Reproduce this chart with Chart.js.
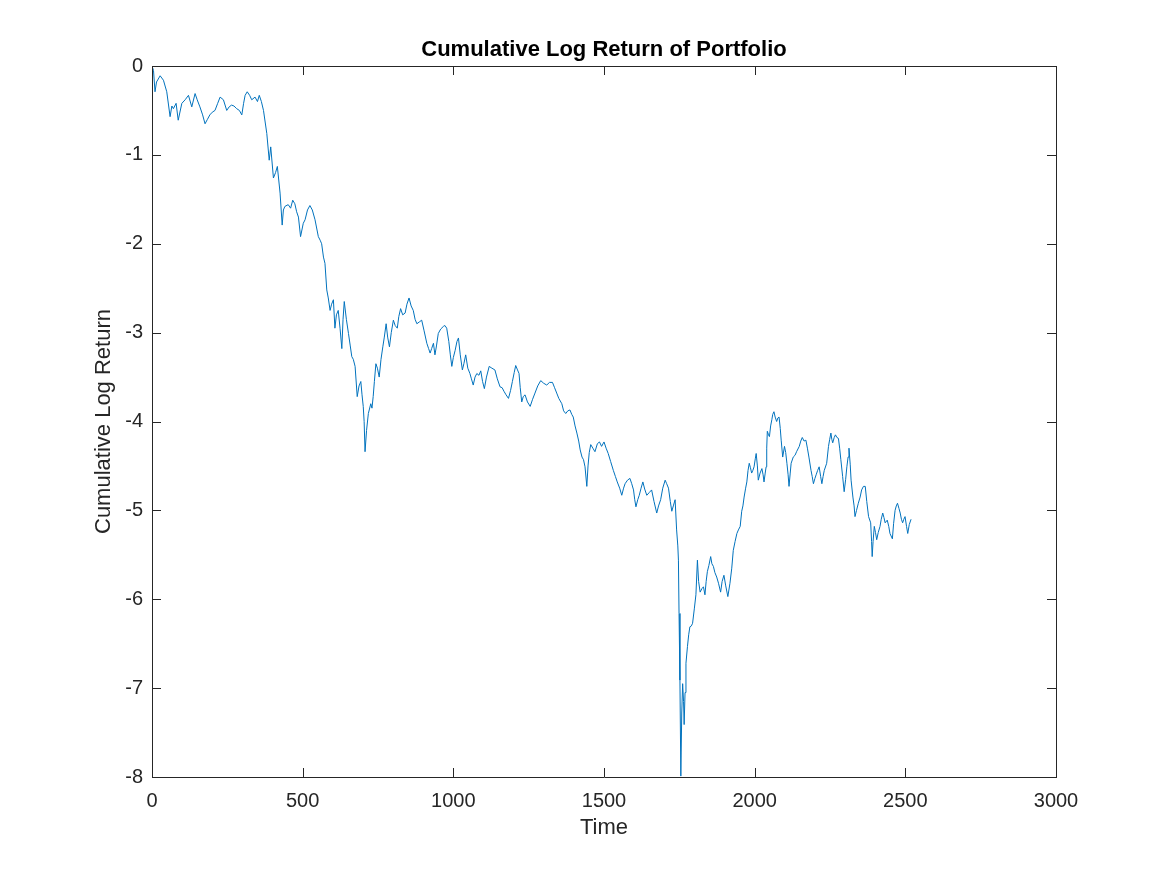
<!DOCTYPE html>
<html>
<head>
<meta charset="utf-8">
<title>Cumulative Log Return of Portfolio</title>
<script src="https://cdn.jsdelivr.net/npm/chart.js@4.4.1/dist/chart.umd.min.js"></script>
<style>
  html, body { margin: 0; padding: 0; background: #fff; }
  #wrap { width: 1167px; height: 875px; position: relative; }
</style>
</head>
<body>
<div id="wrap"><canvas id="returnChart"></canvas></div>
<script>
// axis ticks
const xTicks = [0, 500, 1000, 1500, 2000, 2500, 3000];
const yTicks = [-8, -7, -6, -5, -4, -3, -2, -1, 0];

// cumulative log return (time step, value)
const timeSteps = [
  1, 5, 10, 15, 27, 38, 49, 60, 66, 71, 80, 87, 99, 110, 121, 132, 143, 150, 159, 168,
  176, 184, 192, 200, 209, 218, 226, 237, 248, 256, 264, 272, 281, 290, 298, 304, 309, 316, 324, 331,
  342, 350, 356, 363, 370, 381, 389, 394, 403, 410, 416, 425, 432, 436, 441, 452, 460, 467, 474, 480,
  486, 493, 502, 508, 516, 524, 532, 541, 552, 558, 563, 569, 574, 580, 585, 591, 596, 602, 607, 612,
  618, 624, 630, 634, 638, 645, 652, 658, 663, 668, 674, 681, 687, 693, 697, 701, 704, 707, 712, 718,
  726, 730, 734, 738, 743, 748, 754, 760, 766, 771, 777, 782, 788, 794, 801, 807, 814, 819, 825, 832,
  840, 846, 853, 860, 867, 873, 879, 887, 895, 903, 912, 918, 923, 928, 934, 939, 944, 950, 958, 967,
  972, 978, 985, 990, 995, 1000, 1006, 1012, 1017, 1023, 1030, 1035, 1041, 1048, 1055, 1060, 1066, 1072, 1078, 1085,
  1091, 1097, 1103, 1110, 1119, 1128, 1138, 1146, 1155, 1162, 1168, 1175, 1183, 1190, 1196, 1202, 1207, 1213, 1218, 1222,
  1227, 1232, 1238, 1246, 1255, 1263, 1271, 1280, 1290, 1300, 1310, 1319, 1329, 1336, 1343, 1350, 1360, 1366, 1373, 1380,
  1387, 1393, 1398, 1404, 1410, 1416, 1421, 1427, 1432, 1437, 1443, 1447, 1451, 1456, 1463, 1470, 1478, 1485, 1492, 1500,
  1507, 1514, 1522, 1531, 1538, 1544, 1552, 1559, 1565, 1570, 1578, 1586, 1592, 1598, 1602, 1606, 1612, 1617, 1623, 1629,
  1635, 1642, 1650, 1658, 1666, 1675, 1681, 1688, 1695, 1703, 1708, 1714, 1720, 1725, 1730, 1736, 1741, 1745, 1747, 1749,
  1752, 1755, 1758, 1761, 1764, 1766, 1769, 1772, 1777, 1781, 1785, 1790, 1794, 1800, 1805, 1810, 1814, 1819, 1825, 1830,
  1835, 1839, 1843, 1848, 1854, 1858, 1863, 1868, 1874, 1880, 1887, 1892, 1898, 1904, 1911, 1918, 1924, 1929, 1935, 1941,
  1946, 1952, 1957, 1961, 1965, 1970, 1974, 1978, 1982, 1986, 1990, 1994, 1998, 2002, 2005, 2009, 2012, 2018, 2024, 2028,
  2031, 2035, 2038, 2040, 2042, 2046, 2049, 2053, 2057, 2060, 2064, 2068, 2073, 2077, 2081, 2085, 2088, 2093, 2099, 2103,
  2107, 2111, 2114, 2118, 2121, 2128, 2134, 2139, 2148, 2153, 2158, 2164, 2170, 2175, 2180, 2187, 2191, 2195, 2200, 2204,
  2209, 2214, 2219, 2223, 2227, 2231, 2239, 2245, 2249, 2253, 2256, 2259, 2264, 2268, 2273, 2278, 2282, 2286, 2292, 2297,
  2302, 2306, 2310, 2313, 2317, 2320, 2326, 2330, 2333, 2338, 2344, 2350, 2355, 2361, 2367, 2372, 2378, 2385, 2388, 2390,
  2393, 2397, 2401, 2405, 2410, 2416, 2420, 2425, 2429, 2433, 2440, 2445, 2449, 2457, 2461, 2466, 2470, 2474, 2479, 2483,
  2487, 2491, 2495, 2499, 2504, 2508, 2513, 2519
];
const logReturns = [
  -0.01, -0.05, -0.29, -0.18, -0.11, -0.16, -0.29, -0.57, -0.45, -0.48, -0.42, -0.61, -0.42, -0.38, -0.33, -0.46, -0.31, -0.38, -0.46, -0.55,
  -0.65, -0.60, -0.55, -0.52, -0.50, -0.42, -0.35, -0.38, -0.50, -0.46, -0.44, -0.45, -0.48, -0.50, -0.55, -0.42, -0.33, -0.29, -0.33, -0.38,
  -0.35, -0.40, -0.33, -0.40, -0.50, -0.76, -1.06, -0.91, -1.26, -1.20, -1.13, -1.43, -1.79, -1.62, -1.58, -1.56, -1.60, -1.51, -1.55, -1.64,
  -1.70, -1.92, -1.77, -1.73, -1.62, -1.57, -1.62, -1.73, -1.92, -1.96, -2.00, -2.15, -2.22, -2.52, -2.61, -2.75, -2.68, -2.63, -2.95, -2.80,
  -2.75, -2.95, -3.18, -2.85, -2.65, -2.85, -3.01, -3.15, -3.27, -3.30, -3.38, -3.72, -3.60, -3.55, -3.70, -3.83, -4.00, -4.34, -4.10, -3.91,
  -3.80, -3.85, -3.72, -3.55, -3.35, -3.40, -3.50, -3.30, -3.16, -3.05, -2.90, -3.05, -3.16, -3.00, -2.86, -2.92, -2.95, -2.82, -2.73, -2.80,
  -2.78, -2.68, -2.61, -2.70, -2.75, -2.85, -2.90, -2.88, -2.86, -2.98, -3.12, -3.18, -3.23, -3.18, -3.12, -3.25, -3.15, -3.01, -2.96, -2.93,
  -2.92, -2.95, -3.10, -3.25, -3.38, -3.28, -3.20, -3.10, -3.06, -3.25, -3.42, -3.35, -3.25, -3.40, -3.46, -3.52, -3.59, -3.50, -3.46, -3.48,
  -3.43, -3.55, -3.63, -3.50, -3.38, -3.40, -3.42, -3.52, -3.61, -3.62, -3.66, -3.70, -3.74, -3.65, -3.55, -3.45, -3.37, -3.42, -3.46, -3.62,
  -3.78, -3.72, -3.70, -3.78, -3.83, -3.75, -3.68, -3.60, -3.54, -3.57, -3.59, -3.56, -3.56, -3.62, -3.68, -3.74, -3.80, -3.88, -3.91, -3.88,
  -3.87, -3.92, -3.95, -4.05, -4.13, -4.22, -4.32, -4.40, -4.43, -4.51, -4.73, -4.50, -4.35, -4.26, -4.30, -4.34, -4.25, -4.23, -4.28, -4.23,
  -4.30, -4.36, -4.45, -4.55, -4.62, -4.68, -4.75, -4.83, -4.75, -4.70, -4.66, -4.64, -4.70, -4.77, -4.88, -4.96, -4.88, -4.83, -4.75, -4.68,
  -4.76, -4.83, -4.80, -4.77, -4.90, -5.03, -4.95, -4.88, -4.75, -4.66, -4.70, -4.75, -4.90, -5.01, -4.95, -4.88, -5.22, -5.40, -5.56, -6.16,
  -6.91, -7.99, -7.28, -6.95, -7.15, -7.41, -7.05, -6.72, -6.53, -6.40, -6.31, -6.30, -6.27, -6.10, -5.95, -5.56, -5.80, -5.92, -5.88, -5.86,
  -5.95, -5.80, -5.69, -5.62, -5.52, -5.60, -5.63, -5.70, -5.75, -5.82, -5.92, -5.80, -5.73, -5.85, -5.97, -5.82, -5.65, -5.45, -5.35, -5.26,
  -5.22, -5.18, -5.01, -4.95, -4.85, -4.75, -4.68, -4.55, -4.47, -4.52, -4.58, -4.55, -4.51, -4.42, -4.36, -4.50, -4.66, -4.58, -4.53, -4.60,
  -4.68, -4.58, -4.51, -4.30, -4.11, -4.15, -4.17, -4.05, -3.98, -3.92, -3.89, -3.95, -4.00, -3.96, -3.95, -4.08, -4.21, -4.40, -4.28, -4.35,
  -4.47, -4.60, -4.73, -4.58, -4.47, -4.40, -4.38, -4.34, -4.28, -4.22, -4.18, -4.22, -4.21, -4.30, -4.40, -4.55, -4.62, -4.70, -4.64, -4.60,
  -4.55, -4.51, -4.62, -4.70, -4.62, -4.55, -4.47, -4.28, -4.20, -4.13, -4.20, -4.24, -4.18, -4.15, -4.18, -4.19, -4.30, -4.43, -4.62, -4.79,
  -4.65, -4.51, -4.40, -4.30, -4.48, -4.66, -4.85, -4.95, -5.07, -5.00, -4.92, -4.85, -4.77, -4.73, -4.73, -4.90, -5.07, -5.14, -5.35, -5.52,
  -5.35, -5.18, -5.25, -5.33, -5.25, -5.18, -5.10, -5.03, -5.08, -5.14, -5.11, -5.18, -5.26, -5.32, -5.15, -5.00, -4.95, -4.92, -4.98, -5.03,
  -5.10, -5.14, -5.10, -5.07, -5.18, -5.26, -5.16, -5.10
];

const axisColor = '#262626';
const fontFamily = '"Liberation Sans", Arial, Helvetica, sans-serif';

// MATLAB style: tick marks pointing into the plot box on all four sides
const innerTicks = {
  id: 'innerTicks',
  afterDatasetsDraw(chart) {
    const {ctx, chartArea: a, scales: {x, y}} = chart;
    const len = 9;
    ctx.save();
    ctx.strokeStyle = axisColor;
    ctx.lineWidth = 1;
    ctx.beginPath();
    xTicks.forEach(v => {
      const px = Math.round(x.getPixelForValue(v)) + 0.5;
      ctx.moveTo(px, a.bottom); ctx.lineTo(px, a.bottom - len);
      ctx.moveTo(px, a.top); ctx.lineTo(px, a.top + len);
    });
    yTicks.forEach(v => {
      const py = Math.round(y.getPixelForValue(v)) + 0.5;
      ctx.moveTo(a.left, py); ctx.lineTo(a.left + len, py);
      ctx.moveTo(a.right, py); ctx.lineTo(a.right - len, py);
    });
    ctx.stroke();
    ctx.restore();
  }
};

const ctx = document.getElementById('returnChart').getContext('2d');
new Chart(ctx, {
  type: 'line',
  data: {
    datasets: [{
      label: 'Cumulative Log Return',
      data: timeSteps.map((t, i) => ({x: t, y: logReturns[i]})),
      borderColor: '#0072BD',
      borderWidth: 1,
      pointRadius: 0,
      tension: 0,
      fill: false
    }]
  },
  options: {
    responsive: true,
    maintainAspectRatio: false,
    animation: false,
    layout: {padding: {left: 41, right: 0, top: 0, bottom: 0}},
    plugins: {
      legend: {display: false},
      tooltip: {enabled: false},
      title: {
        display: true,
        text: 'Cumulative Log Return of Portfolio',
        color: '#000',
        font: {family: fontFamily, size: 22, weight: 'bold'},
        padding: {top: 37, bottom: 2.6}
      }
    },
    scales: {
      x: {
        type: 'linear',
        position: 'bottom',
        min: 0,
        max: 3000,
        afterBuildTicks: s => { s.ticks = xTicks.map(v => ({value: v})); },
        afterFit: s => { s.height = 98; },
        grid: {display: false, drawTicks: false},
        border: {display: true, color: axisColor, width: 1},
        ticks: {
          autoSkip: false,
          maxRotation: 0,
          padding: 12,
          color: axisColor,
          font: {family: fontFamily, size: 20},
          callback: v => String(v)
        },
        title: {
          display: true,
          text: 'Time',
          color: axisColor,
          font: {family: fontFamily, size: 22},
          padding: {top: 0, bottom: 34}
        }
      },
      y: {
        type: 'linear',
        position: 'left',
        min: -8,
        max: 0,
        afterBuildTicks: s => { s.ticks = yTicks.map(v => ({value: v})); },
        afterFit: s => { s.width = 111; },
        grid: {display: false, drawTicks: false},
        border: {display: true, color: axisColor, width: 1},
        ticks: {
          autoSkip: false,
          padding: 9,
          color: axisColor,
          font: {family: fontFamily, size: 20},
          callback: v => String(v)
        },
        title: {
          display: true,
          text: 'Cumulative Log Return',
          color: axisColor,
          font: {family: fontFamily, size: 22},
          padding: {top: 50, bottom: 0}
        }
      },
      xTop: {
        type: 'linear',
        position: 'top',
        min: 0,
        max: 3000,
        afterFit: s => { s.height = 0; },
        grid: {display: false, drawTicks: false},
        border: {display: true, color: axisColor, width: 1},
        ticks: {display: false}
      },
      yRight: {
        type: 'linear',
        position: 'right',
        min: -8,
        max: 0,
        afterFit: s => { s.width = 111; },
        grid: {display: false, drawTicks: false},
        border: {display: true, color: axisColor, width: 1},
        ticks: {display: false}
      }
    }
  },
  plugins: [innerTicks]
});
</script>
</body>
</html>
